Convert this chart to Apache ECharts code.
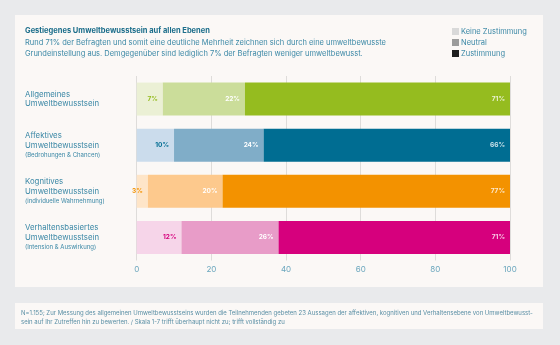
<!DOCTYPE html>
<html>
<head>
<meta charset="utf-8">
<script src="https://cdn.jsdelivr.net/npm/echarts@6/dist/echarts.min.js"></script>
<style>
  html, body { margin: 0; padding: 0; background: #e9eaec; }
  #chart { width: 560px; height: 345px; }
</style>
</head>
<body>
<div id="chart"></div>
<script>
// Survey levels (rows, top to bottom)
const levels = ['Allgemeines\nUmweltbewusstsein', 'Affektives\nUmweltbewusstsein', 'Kognitives\nUmweltbewusstsein', 'Verhaltensbasiertes\nUmweltbewusstsein'];
const levelNotes = ['', '(Bedrohungen & Chancen)', '(individuelle Wahrnehmung)', '(Intension & Auswirkung)'];

// Shares in percent.
// Note: the last row's published shares add up to 109% (12 + 26 + 71); its
// approval segment is drawn at 71 and clipped at the axis maximum of 100.
const keineZustimmung = [7, 10, 3, 12];
const neutral = [22, 24, 20, 26];
const zustimmung = [71, 66, 77, 71];

const xTicks = [0, 20, 40, 60, 80, 100];

// Palette per row: [light, mid, dark]
const rowColors = [
  ['#ebf0d5', '#cbdd9a', '#95bc1f'],
  ['#cbdcec', '#80adc8', '#006d92'],
  ['#fee5c8', '#fdc98d', '#f39200'],
  ['#f6d5e9', '#e89cc8', '#d6007d']
];

const FONT = 'Inter, "Noto Sans", sans-serif';
const TEXT = '#3b88a6';

const chart = echarts.init(document.getElementById('chart'), null, { renderer: 'canvas' });

// shade: 0 light, 1 mid, 2 dark; light segments carry a label in the row's dark colour
function rowData(values, shade) {
  return values.map((v, i) => ({
    value: v,
    itemStyle: { color: rowColors[i][shade] },
    label: { color: shade === 0 ? rowColors[i][2] : '#ffffff' }
  }));
}

const segLabel = {
  show: true,
  position: 'insideRight',
  distance: 5,
  fontFamily: FONT,
  fontSize: 6.5,
  fontWeight: 'bold',
  formatter: p => p.value + '%'
};

chart.setOption({
  backgroundColor: '#e9eaec',
  animation: false,
  textStyle: { fontFamily: FONT },
  graphic: [
    { type: 'rect', z: -10, shape: { x: 15, y: 15, width: 528, height: 272 }, style: { fill: '#fbf8f6' } },
    { type: 'rect', z: -10, shape: { x: 15, y: 303, width: 528, height: 26 }, style: { fill: '#fbf8f6' } },
    {
      type: 'text', left: 25, top: 27,
      style: { text: 'Gestiegenes Umweltbewusstsein auf allen Ebenen', fill: '#1b6d8a', font: 'bold 7.5px ' + FONT }
    },
    {
      type: 'text', left: 25, top: 37,
      style: {
        text: 'Rund 71% der Befragten und somit eine deutliche Mehrheit zeichnen sich durch eine umweltbewusste\nGrundeinstellung aus. Demgegenüber sind lediglich 7% der Befragten weniger umweltbewusst.',
        fill: TEXT, font: '7.5px ' + FONT, lineHeight: 11
      }
    },
    {
      type: 'text', left: 21, top: 309,
      style: {
        text: 'N=1.155; Zur Messung des allgemeinen Umweltbewusstseins wurden die Teilnehmenden gebeten 23 Aussagen der affektiven, kognitiven und Verhaltensebene von Umweltbewusst-\nsein auf Ihr Zutreffen hin zu bewerten. / Skala 1-7 trifft überhaupt nicht zu; trifft vollständig zu',
        fill: '#5a8fa5', font: '6px ' + FONT, lineHeight: 9
      }
    }
  ],
  legend: {
    data: ['Keine Zustimmung', 'Neutral', 'Zustimmung'],
    orient: 'vertical',
    left: 452, top: 27.5, padding: 0,
    itemWidth: 7, itemHeight: 7, itemGap: 3,
    icon: 'rect',
    selectedMode: false,
    textStyle: { color: TEXT, fontSize: 7.5, fontFamily: FONT, lineHeight: 7, padding: [0, 0, 0, -3] }
  },
  grid: { left: 136.7, right: 50, top: 76, bottom: 84.5 },
  xAxis: {
    type: 'value', min: 0, max: 100, interval: 20,
    axisLine: { show: false }, axisTick: { show: false },
    splitLine: { show: true, lineStyle: { color: '#dedcda', width: 1 } },
    axisLabel: {
      color: '#6aa6bd', fontSize: 8, fontFamily: FONT, margin: 5,
      formatter: v => xTicks.includes(v) ? String(v) : ''
    }
  },
  yAxis: {
    type: 'category', data: levels, inverse: true,
    axisLine: { show: false }, axisTick: { show: false }, splitLine: { show: false },
    axisLabel: {
      align: 'left', margin: 111.7,
      formatter: (v, i) => {
        const lines = v.split('\n').map(s => '{a|' + s + '}');
        if (levelNotes[i]) lines.push('{b|' + levelNotes[i] + '}');
        return lines.join('\n');
      },
      rich: {
        a: { color: TEXT, fontSize: 7.8, fontFamily: FONT, lineHeight: 9.7 },
        b: { color: TEXT, fontSize: 6, fontFamily: FONT, lineHeight: 9.7 }
      }
    }
  },
  series: [
    {
      name: 'Keine Zustimmung', type: 'bar', stack: 'total', barWidth: 33, clip: true,
      itemStyle: { color: '#d9d9d9' },
      data: rowData(keineZustimmung, 0),
      label: segLabel
    },
    {
      name: 'Neutral', type: 'bar', stack: 'total', barWidth: 33, clip: true,
      itemStyle: { color: '#9b9b9b' },
      data: rowData(neutral, 1),
      label: segLabel
    },
    {
      name: 'Zustimmung', type: 'bar', stack: 'total', barWidth: 33, clip: true,
      itemStyle: { color: '#1e1e1e' },
      data: rowData(zustimmung, 2),
      label: { show: false }
    },
    {
      // approval labels anchored at the right end of the axis
      name: 'ZustimmungLabel', type: 'scatter', symbolSize: 0, silent: true, z: 5,
      data: zustimmung.map((v, i) => [100, i]),
      label: {
        show: true, position: 'left', distance: 5,
        fontFamily: FONT, fontSize: 6.5, fontWeight: 'bold', color: '#ffffff',
        formatter: p => zustimmung[p.dataIndex] + '%'
      }
    }
  ]
});
</script>
</body>
</html>
